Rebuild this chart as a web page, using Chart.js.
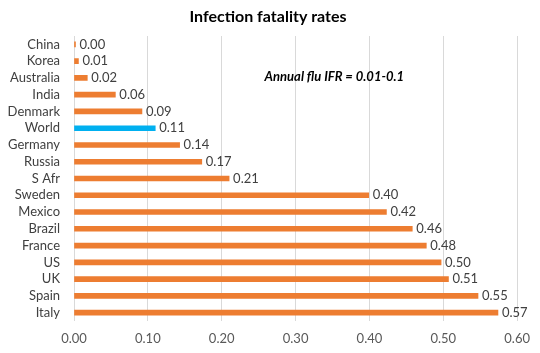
<!DOCTYPE html>
<html lang="en">
<head>
  <meta charset="UTF-8">
  <title>Infection fatality rates</title>
  <script src="https://cdn.jsdelivr.net/npm/chart.js"></script>
  <style>
    html, body { margin: 0; padding: 0; background: #fff; }
    #wrap { width: 540px; height: 353px; }
  </style>
</head>
<body>
  <div id="wrap"><canvas id="chart" width="540" height="353"></canvas></div>
  <script>
    const countries = ["China", "Korea", "Australia", "India", "Denmark", "World", "Germany", "Russia",
      "S Afr", "Sweden", "Mexico", "Brazil", "France", "US", "UK", "Spain", "Italy"];
    const ifr = [0.002, 0.006, 0.018, 0.056, 0.092, 0.110, 0.143, 0.173,
      0.210, 0.399, 0.423, 0.458, 0.477, 0.497, 0.507, 0.547, 0.574];
    const xTicks = [0, 0.1, 0.2, 0.3, 0.4, 0.5, 0.6];
    const title = "Infection fatality rates";
    const note = "Annual flu IFR = 0.01-0.1";

    const font = "Lato, 'Open Sans', sans-serif";
    const orange = "#ED7D31";
    const blue = "#00B0F0";

    // title, value labels at bar ends, and the flu note
    const labelsPlugin = {
      id: "barLabels",
      afterDatasetsDraw(chart) {
        const ctx = chart.ctx;
        const meta = chart.getDatasetMeta(0);
        ctx.save();
        ctx.textBaseline = "middle";
        ctx.textAlign = "center";
        ctx.font = "bold 16px " + font;
        ctx.fillStyle = "#000";
        ctx.fillText(title, 268, 17);

        ctx.textAlign = "left";
        ctx.font = "13px " + font;
        ctx.fillStyle = "#404040";
        meta.data.forEach((bar, i) => {
          ctx.fillText(ifr[i].toFixed(2), bar.x + 4, bar.y);
        });
        ctx.font = "italic bold 13px " + font;
        ctx.fillStyle = "#000";
        const xs = chart.scales.x;
        ctx.fillText(note, xs.getPixelForValue(0.258), chart.scales.y.getPixelForValue(2) - 1);
        ctx.restore();
      }
    };

    new Chart(document.getElementById("chart"), {
      type: "bar",
      data: {
        labels: countries,
        datasets: [{
          data: ifr,
          backgroundColor: countries.map(c => c === "World" ? blue : orange),
          barThickness: 5
        }]
      },
      options: {
        indexAxis: "y",
        responsive: false,
        animation: false,
        layout: { padding: { top: 36, right: 22, bottom: 0, left: 0 } },
        plugins: {
          legend: { display: false },
          tooltip: { enabled: false },
          title: { display: false }
        },
        scales: {
          x: {
            min: 0,
            max: 0.6,
            afterBuildTicks: (s) => { s.ticks = xTicks.map(v => ({ value: v })); },
            afterFit: (s) => { s.height = 32; },
            grid: { color: "#D9D9D9", drawTicks: false },
            border: { display: false },
            ticks: {
              color: "#595959",
              padding: 10,
              font: { family: font, size: 13 },
              callback: (v) => Number(v).toFixed(2)
            }
          },
          y: {
            afterFit: (s) => { s.width = 74; },
            grid: { display: false, drawTicks: false },
            border: { display: false },
            ticks: {
              color: "#404040",
              padding: 14,
              font: { family: font, size: 13 },
              autoSkip: false
            }
          }
        }
      },
      plugins: [labelsPlugin]
    });
  </script>
</body>
</html>
